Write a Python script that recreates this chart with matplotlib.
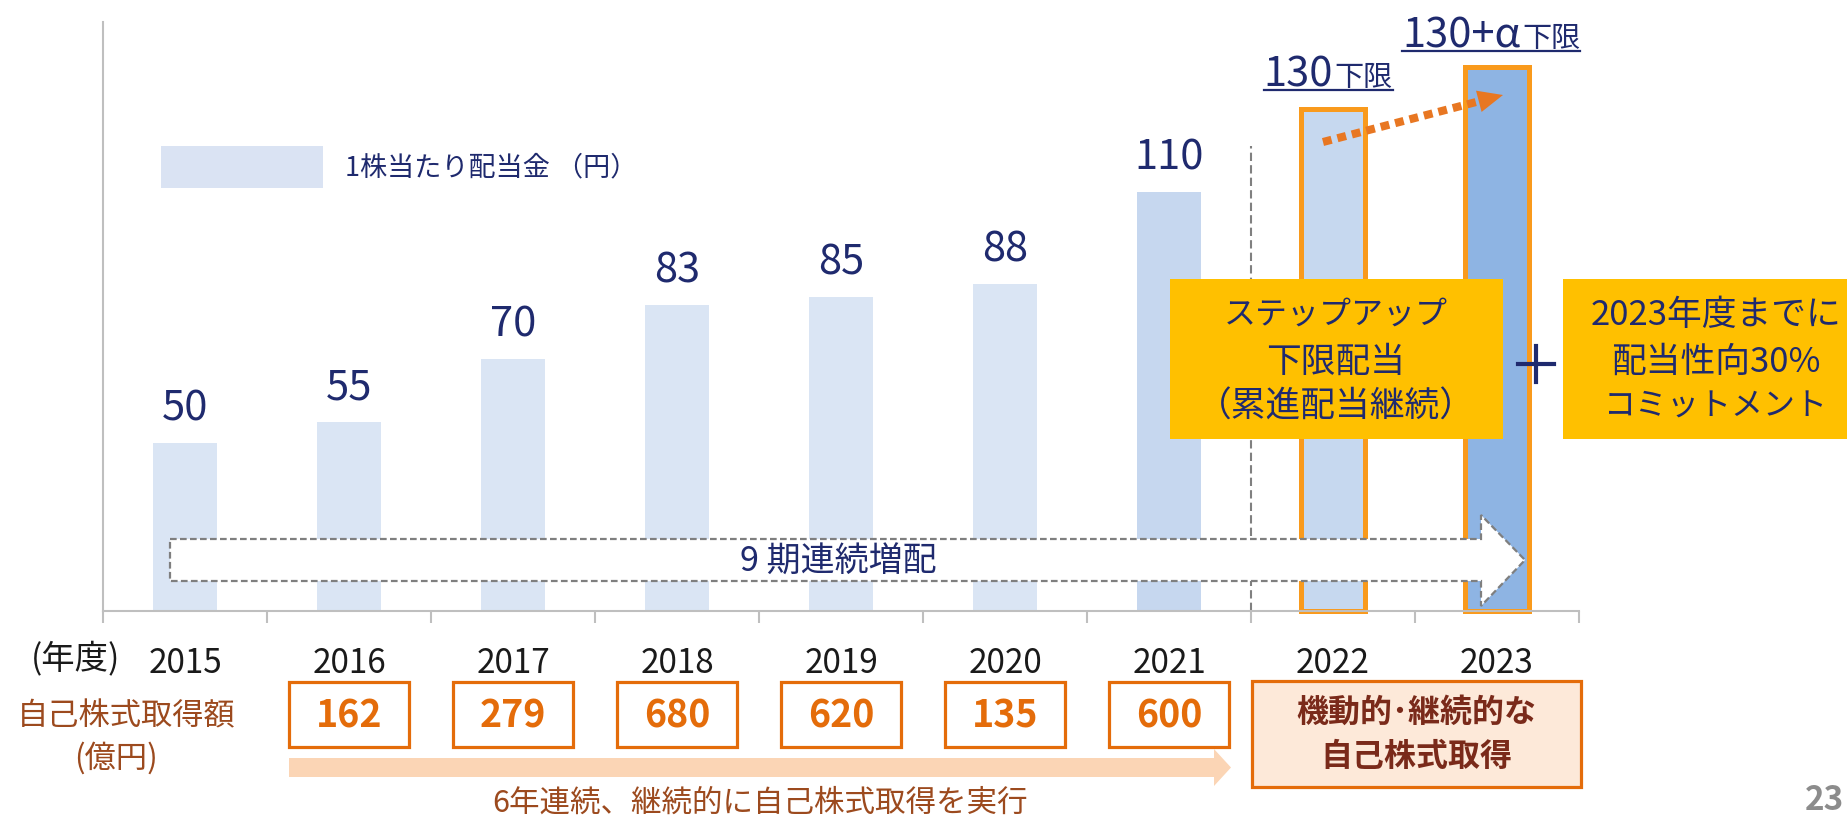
import matplotlib
matplotlib.use("Agg")
import matplotlib.pyplot as plt
import numpy as np
from matplotlib.patches import Rectangle, Polygon
from matplotlib.lines import Line2D
import matplotlib.transforms as mtransforms

plt.rcParams['font.family'] = ['Noto Sans CJK JP', 'DejaVu Sans']

# ---------------- data ----------------
years = ['2015', '2016', '2017', '2018', '2019', '2020', '2021', '2022', '2023']
dividends = [50, 55, 70, 83, 85, 88, 110, 130, 140]          # 円 / 株 (2023 = 130+α)
dividend_labels = ['50', '55', '70', '83', '85', '88', '110']
target_main = ['130', '130+α']
target_suffix = ['下限', '下限']
buyback_years = ['2016', '2017', '2018', '2019', '2020', '2021']
buyback_values = [162, 279, 680, 620, 135, 600]                # 億円

legend_label = '1株当たり配当金 （円）'
arrow_label = '9 期連続増配'
box1_lines = ['ステップアップ', '下限配当', '（累進配当継続）']
box2_lines = ['2023年度までに', '配当性向30%', 'コミットメント']
future_buyback_lines = ['機動的･継続的な', '自己株式取得']
buyback_title = ['自己株式取得額', '(億円)']
buyback_note = '6年連続、継続的に自己株式取得を実行'
year_unit = '(年度)'

# ---------------- style ----------------
NAVY = '#1F2A6E'
ORANGE_EDGE = '#F99A1C'
ORANGE_BOX = '#E46C0A'
BROWN = '#9C4A1E'
MAROON = '#7A2A1A'
bar_colors = ['#DAE5F4'] * 6 + ['#C6D7EF', '#C6D8EF', '#8EB4E3']

W, H = 1847, 819
fig = plt.figure(figsize=(W / 100, H / 100), dpi=100)


def fx(x):
    return x / W


def fy(y):
    return 1 - y / H


Y0, Y1 = 9.8, 150.7
ax = fig.add_axes([fx(103), fy(611), (1579 - 103) / W, (611 - 22) / H])
ax.set_xlim(-0.5, len(years) - 0.5)
ax.set_ylim(Y0, Y1)

x = np.arange(len(years))
vals = np.array(dividends, dtype=float)
bars = ax.bar(x, vals - Y0, bottom=Y0, width=0.39, color=bar_colors, zorder=2)
for b in bars[7:]:
    b.set_edgecolor(ORANGE_EDGE)
    b.set_linewidth(3.6)
    b.set_clip_on(False)

for i, lab in enumerate(dividend_labels):
    ax.annotate(lab, xy=(i, dividends[i]), xytext=(0, 24.5), textcoords='offset points',
                ha='center', va='center', fontsize=30, color=NAVY)

# target labels with underline
tlabels = []
for k, i in enumerate([7, 8]):
    split = 0 if k == 0 else 17
    off = 16 if k == 0 else 14
    t1 = ax.annotate(target_main[k], xy=(i, dividends[i]), xytext=(split, off),
                     textcoords='offset points', ha='right', va='baseline',
                     fontsize=30, color=NAVY)
    t2 = ax.annotate(target_suffix[k], xy=(i, dividends[i]), xytext=(split + 1, off),
                     textcoords='offset points', ha='left', va='baseline',
                     fontsize=21, color=NAVY)
    tlabels.append((i, off, t1, t2))

# spines / ticks
for s in ['top', 'right']:
    ax.spines[s].set_visible(False)
for s in ['left', 'bottom']:
    ax.spines[s].set_color('#BFBFBF')
    ax.spines[s].set_linewidth(1.5)
ax.set_yticks([])
ax.set_xticks(np.arange(-0.5, len(years), 1.0))
ax.set_xticklabels([])
ax.tick_params(axis='x', which='major', length=8.6, width=1.5, color='#BFBFBF', direction='out')
ax.set_xticks(x, minor=True)
ax.set_xticklabels(years, minor=True, fontsize=24, color='#1A1A1A')
ax.tick_params(axis='x', which='minor', length=0, pad=25)

# dashed separator between actual and plan
ax.vlines([6.5], Y0, 121, colors='#808080', linestyles=(0, (4, 2)), linewidth=1.5, zorder=1)

# ---------------- figure-level decorations (pixel coordinates) ----------------
def P(px, py):
    return (fx(px), fy(py))


def poly(pts, **kw):
    p = Polygon([P(*q) for q in pts], closed=True, transform=fig.transFigure, **kw)
    fig.add_artist(p)
    return p


def rect(x0, y0, x1, y1, **kw):
    r = Rectangle(P(x0, y1), (x1 - x0) / W, (y1 - y0) / H, transform=fig.transFigure, **kw)
    fig.add_artist(r)
    return r


def txt(px, py, s, **kw):
    return fig.text(fx(px), fy(py), s, **kw)


# legend
rect(161, 146, 323, 188, facecolor='#DAE3F3', edgecolor='none')
txt(345, 168, legend_label, ha='left', va='center', fontsize=19.5, color=NAVY)

# big dashed arrow "9期連続増配"
poly([(170, 539), (1481, 539), (1481, 515), (1525, 560), (1481, 606), (1481, 581), (170, 581)],
     facecolor='white', edgecolor='#7F7F7F', linewidth=1.6, linestyle=(0, (3, 1.5)), zorder=2)
txt(838, 562, arrow_label, ha='center', va='center', fontsize=24.5, color=NAVY, zorder=3)

# orange dotted arrow
start = np.array([1323.0, 142.0])
tip = np.array([1503.0, 95.0])
d = (tip - start) / np.linalg.norm(tip - start)
perp = np.array([d[1], -d[0]])
base = tip - 25 * d
fig.add_artist(Line2D([fx(start[0]), fx(base[0])], [fy(start[1]), fy(base[1])],
                      transform=fig.transFigure, color='#E87722', linewidth=5.8,
                      linestyle=(0, (1.1, 0.75)), dash_capstyle='butt', zorder=4))
poly([tuple(tip), tuple(base + 11 * perp), tuple(base - 11 * perp)],
     facecolor='#E87722', edgecolor='none', zorder=4)

# yellow boxes
rect(1170, 279, 1503, 439, facecolor='#FFC000', edgecolor='none', zorder=5)
rect(1563, 279, 1860, 439, facecolor='#FFC000', edgecolor='none', zorder=5)
box_sizes = [23, 25, 25]
for yy, s, fs in zip([315, 362, 407], box1_lines, box_sizes):
    txt(1336, yy, s, ha='center', va='center', fontsize=fs, color=NAVY, zorder=6)
for yy, s, fs in zip([315, 362, 407], box2_lines, [25, 25, 23]):
    txt(1716, yy, s, ha='center', va='center', fontsize=fs, color=NAVY, zorder=6)
# plus sign
fig.add_artist(Line2D([fx(1518), fx(1554)], [fy(364), fy(364)], transform=fig.transFigure,
                      color=NAVY, linewidth=3, zorder=6))
fig.add_artist(Line2D([fx(1536), fx(1536)], [fy(346), fy(382)], transform=fig.transFigure,
                      color=NAVY, linewidth=3, zorder=6))

# year unit
txt(76, 659, year_unit, ha='center', va='center', fontsize=24, color='#1A1A1A')

# buyback row
txt(126, 716, buyback_title[0], ha='center', va='center', fontsize=22.5, color=BROWN)
txt(116, 758, buyback_title[1], ha='center', va='center', fontsize=22.5, color=BROWN)

blend = mtransforms.blended_transform_factory(ax.transData, fig.transFigure)
for yr, v in zip(buyback_years, buyback_values):
    i = years.index(yr)
    r = Rectangle((i - 0.363, fy(747)), 0.726, (747 - 682) / H, transform=blend,
                  facecolor='white', edgecolor=ORANGE_BOX, linewidth=2.3, clip_on=False)
    ax.add_artist(r)
    ax.text(i, fy(716), f'{v}', transform=blend, ha='center', va='center',
            fontsize=27, fontweight='bold', color=ORANGE_BOX, clip_on=False)

# peach arrow
poly([(289, 758), (1214, 758), (1214, 749), (1231, 767.5), (1214, 786), (1214, 777), (289, 777)],
     facecolor='#FBD5B5', edgecolor='none')
txt(760, 803, buyback_note, ha='center', va='center', fontsize=22, color=BROWN)

# future buyback box
rect(1252, 681, 1581, 787, facecolor='#FDE9D9', edgecolor=ORANGE_BOX, linewidth=2.3)
txt(1416, 713, future_buyback_lines[0], ha='center', va='center', fontsize=23,
    fontweight='bold', color=MAROON)
txt(1416, 757, future_buyback_lines[1], ha='center', va='center', fontsize=23,
    fontweight='bold', color=MAROON)

# page number
txt(1844, 800, '23', ha='right', va='center', fontsize=24, fontweight='bold',
    fontstyle='italic', color='#8C8C8C')

# underline target labels
fig.canvas.draw()
renderer = fig.canvas.get_renderer()
inv = fig.transFigure.inverted()
for i, off, t1, t2 in tlabels:
    b1 = t1.get_window_extent(renderer)
    b2 = t2.get_window_extent(renderer)
    xb0, xb1 = min(b1.x0, b2.x0), max(b1.x1, b2.x1)
    base_y = ax.transData.transform((i, dividends[i]))[1] + off * 100 / 72 - 4
    (a0, yy0) = inv.transform((xb0, base_y))
    (a1, _) = inv.transform((xb1, base_y))
    fig.add_artist(Line2D([a0, a1], [yy0, yy0], transform=fig.transFigure,
                          color=NAVY, linewidth=1.6))

fig.savefig('out.png', dpi=100)
